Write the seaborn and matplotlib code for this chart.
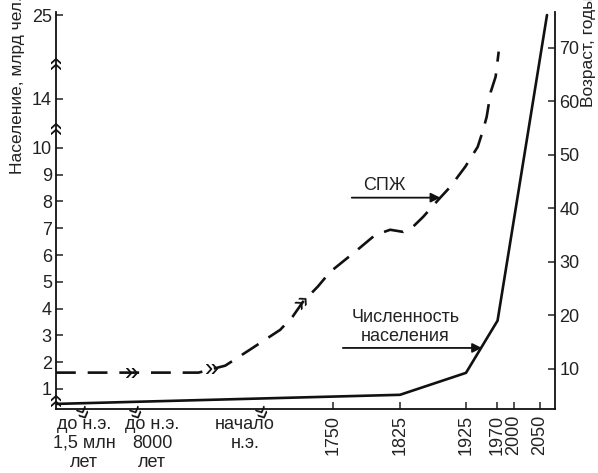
import numpy as np
import pandas as pd
import matplotlib
matplotlib.use("Agg")
import matplotlib.pyplot as plt
import seaborn as sns

# ---------------- data ----------------
# broken time axis: anchor years and their relative positions on the axis
YEAR_ANCHORS = [-2.0e6, -1.5e6, -8000, 0, 1750, 1825, 1925, 1970, 2000, 2050, 2080]
AXIS_POS = [0, 28, 96, 189, 277, 344, 410, 441, 458, 484, 499]

# broken population axis: real values -> displayed positions
POP_ANCHORS = [-1, 0, 10, 14, 25, 30]
POP_DISPLAY = [-1, 0, 10, 11.83, 14.96, 16.38]

minor_years = [-1.5e6, -8000, 0]
minor_labels = ["до н.э.\n1,5 млн\nлет", "до н.э.\n8000\nлет", "начало\nн.э."]
major_years = [1750, 1825, 1925, 1970, 2000, 2050]
major_labels = ["1750", "1825", "1925", "1970", "2000", "2050"]

pop_ticks = [1, 2, 3, 4, 5, 6, 7, 8, 9, 10, 14, 25]
age_ticks = [10, 20, 30, 40, 50, 60, 70]

# population, billions
pop_years = [-2.0e6, 1825, 1925, 1971, 2064]
pop_values = [0.44, 0.78, 1.6, 3.55, 25]

# life expectancy (СПЖ), years
le_years = [-2.0e6, -4000, -1700, 100, 700, 950, 1150, 1450, 1690, 1777, 1797, 1814, 1830,
            1845, 1860, 1886, 1901, 1924, 1942, 1950, 1955, 1961, 1968, 1973]
le_values = [9.3, 9.3, 10.6, 13.6, 17.3, 19.8, 22.5, 25.4, 28.1, 32.2, 35.0, 36.0, 35.6,
             36.6, 38.4, 42.0, 44.0, 47.8, 51.5, 54.7, 57.1, 61.8, 64.6, 69.3]

# years where the dashed curve is marked with a break sign
le_break_years = [-447000, -2839, 1150]

# ---------------- style ----------------
sns.set_style("ticks")
plt.rcParams['font.family'] = ['Liberation Sans', 'DejaVu Sans']
TXT = "#222222"
plt.rcParams['text.color'] = TXT
plt.rcParams['xtick.color'] = TXT
plt.rcParams['ytick.color'] = TXT
plt.rcParams['axes.edgecolor'] = "#111111"

fig = plt.figure(figsize=(5.98, 4.73), dpi=100)
ax = fig.add_axes([56 / 598, 64 / 473, 499 / 598, 397 / 473])
ax2 = ax.twinx()

df_pop = pd.DataFrame({"year": pop_years, "pop": pop_values})
df_le = pd.DataFrame({"year": le_years, "age": le_values})

sns.lineplot(data=df_pop, x="year", y="pop", ax=ax, color="#111111", lw=1.9)
sns.lineplot(data=df_le, x="year", y="age", ax=ax2, color="#111111", lw=1.9)
ax2.lines[0].set_linestyle((0, (7.5, 4.5)))

# scales
def xf(v):
    return np.interp(v, YEAR_ANCHORS, AXIS_POS)

def xi(v):
    return np.interp(v, AXIS_POS, YEAR_ANCHORS)

def yf(v):
    return np.interp(v, POP_ANCHORS, POP_DISPLAY)

def yi(v):
    return np.interp(v, POP_DISPLAY, POP_ANCHORS)

ax.set_xscale("function", functions=(xf, xi))
ax.set_yscale("function", functions=(yf, yi))
ax.set_xlim(YEAR_ANCHORS[0], YEAR_ANCHORS[-1])
ax.set_ylim(0.25, 25.4)
ax2.set_ylim(2.5, 76.7)

# ticks
ax.set_xticks(major_years, major_labels)
ax.set_xticks(minor_years, minor_labels, minor=True)
ax.set_yticks(pop_ticks, [str(t) for t in pop_ticks])
ax.yaxis.set_minor_locator(matplotlib.ticker.NullLocator())
ax2.set_yticks(age_ticks, [str(t) for t in age_ticks])
ax2.yaxis.set_minor_locator(matplotlib.ticker.NullLocator())

ax.tick_params(axis='y', direction='in', length=5, width=1.1, labelsize=13, pad=3)
ax2.tick_params(axis='y', direction='in', length=5, width=1.1, labelsize=13, pad=3)
ax.tick_params(axis='x', which='major', direction='in', length=5, width=1.1,
               labelsize=13, labelrotation=90, pad=4)
ax.tick_params(axis='x', which='minor', length=0, labelsize=13, pad=5)
for lab in ax.get_xticklabels(minor=True):
    lab.set_linespacing(1.15)

for a in (ax, ax2):
    a.spines['top'].set_visible(False)
    for s in a.spines.values():
        s.set_linewidth(1.3)
ax.spines['right'].set_visible(False)
ax2.spines['left'].set_visible(False)
ax2.spines['bottom'].set_visible(False)

ax.set_xlabel("")
ax.set_ylabel("")
ax2.set_ylabel("")

# axis titles
ax.text(-0.078, 1.04, "Население, млрд чел.", rotation=90, transform=ax.transAxes,
        ha='center', va='top', fontsize=12.5)
ax2.text(1.068, 1.04, "Возраст, годы", rotation=90, transform=ax2.transAxes,
         ha='center', va='top', fontsize=12.5)

# annotations
ax2.annotate("", xy=(1886, 42.0), xytext=(1771, 42.0),
             arrowprops=dict(arrowstyle="-|>", color="#111111", lw=1.3,
                             mutation_scale=14, shrinkA=0, shrinkB=0))
ax2.text(1808, 44.2, "СПЖ", ha='center', va='center', fontsize=13)
ax.annotate("", xy=(1948, 2.53), xytext=(1761, 2.53),
            arrowprops=dict(arrowstyle="-|>", color="#111111", lw=1.3,
                            mutation_scale=14, shrinkA=0, shrinkB=0))
ax.text(1833, 3.32, "Численность\nнаселения", ha='center', va='center',
        fontsize=13, linespacing=1.15)

# break signs
brk = dict(fontsize=18, color="#111111", ha='center', va='center')
for yfr in (0.874, 0.710, 0.026):
    ax.text(0.0, yfr, "»", rotation=90, transform=ax.transAxes, **brk)
for xfr in (0.052, 0.158, 0.409):
    ax.text(xfr, -0.01, "»", rotation=-65, transform=ax.transAxes, **brk)
for yr in le_break_years:
    val = np.interp(yr, le_years, le_values)
    rot = 45 if yr > 0 else 0
    ax2.text(yr, val, "»", rotation=rot, **brk)

fig.savefig("out.png", dpi=100)
